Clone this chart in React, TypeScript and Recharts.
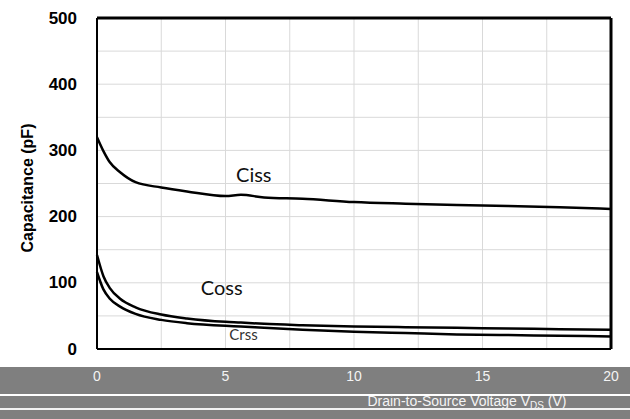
import { LineChart, Line, XAxis, YAxis, CartesianGrid, ReferenceLine, ReferenceDot } from 'recharts';

// drain-to-source voltage (V) and capacitances (pF)
const vds = [0, 0.25, 0.5, 0.9, 1.5, 2.5, 3.5, 5, 5.6, 6.5, 8, 10, 12, 14, 16, 18, 20];
const ciss = [320, 299, 282, 267, 252, 244, 238, 231, 233, 229, 227, 222, 219.5, 217.5, 216, 214, 211.5];
const coss = [142, 110, 92, 76, 63, 52, 46, 41, 40, 38, 36, 34, 33, 32, 31, 30, 29];
const crss = [116, 90, 76, 64, 53, 44, 39, 35, 34, 32, 29, 26, 24, 22, 21, 20, 19];

const xTicks = [0, 5, 10, 15, 20];
const yTicks = [0, 100, 200, 300, 400, 500];
const xGrid = [2.5, 5, 7.5, 10, 12.5, 15, 17.5];
const yGrid = [50, 100, 150, 200, 250, 300, 350, 400, 450];

const data = vds.map((v, i) => ({ vds: v, ciss: ciss[i], coss: coss[i], crss: crss[i] }));

const axisFont = '"Liberation Sans", Arial, sans-serif';
const curveFont = 'Lato, "Open Sans", sans-serif';

const YTick = ({ y, payload }: any) => (
  <text x={77} y={y} textAnchor="end" dominantBaseline="central" fontFamily={axisFont} fontWeight="bold" fontSize={17} fill="#000">
    {payload.value}
  </text>
);

const XTick = ({ x, payload }: any) => (
  <text x={x} y={376} textAnchor="middle" dominantBaseline="central" fontFamily={axisFont} fontSize={14} fill="#f4f4f4">
    {payload.value}
  </text>
);

const curveLabel = (text: string, size: number, color = '#111') => ({
  value: text,
  position: 'center' as const,
  fontSize: size,
  fontFamily: curveFont,
  fill: color,
});

export default function App() {
  return (
    <div style={{ position: 'absolute', left: 0, top: 0, width: 630, height: 419, background: '#fff' }}>
      <div style={{ position: 'absolute', left: 0, top: 367, width: 630, height: 52, background: '#7f7f7f' }} />
      <div style={{ position: 'absolute', left: 0, top: 394, width: 630, height: 2, background: '#fff' }} />
      <div style={{ position: 'absolute', left: 0, top: 408, width: 630, height: 2, background: '#f2f2f2' }} />
      <div style={{ position: 'absolute', left: 0, top: 0 }}>
        <LineChart width={630} height={419} data={data} margin={{ top: 18, right: 19, left: 0, bottom: 0 }}>
          <CartesianGrid stroke="#d9d9d9" strokeWidth={1} horizontalValues={yGrid} verticalValues={xGrid} />
          <XAxis
            dataKey="vds"
            type="number"
            domain={[0, 20]}
            ticks={xTicks}
            height={70}
            tickLine={false}
            axisLine={{ stroke: '#000', strokeWidth: 2 }}
            tick={<XTick />}
            label={{
              content: () => (
                <text x={467} y={401} textAnchor="middle" dominantBaseline="central" fontFamily={axisFont} fontSize={14} fill="#f4f4f4">
                  Drain-to-Source Voltage V
                  <tspan fontSize={10} dy={4}>DS</tspan>
                  <tspan dy={-4}> (V)</tspan>
                </text>
              ),
            }}
          />
          <YAxis
            type="number"
            domain={[0, 500]}
            ticks={yTicks}
            width={97}
            tickLine={false}
            axisLine={{ stroke: '#000', strokeWidth: 2 }}
            tick={<YTick />}
            label={{
              content: () => (
                <text
                  x={27}
                  y={188}
                  transform="rotate(-90 27 188)"
                  textAnchor="middle"
                  dominantBaseline="central"
                  fontFamily={axisFont}
                  fontWeight="bold"
                  fontSize={16}
                  fill="#000"
                >
                  Capacitance (pF)
                </text>
              ),
            }}
          />
          <ReferenceLine y={500} stroke="#000" strokeWidth={3} />
          <ReferenceLine x={20} stroke="#000" strokeWidth={3} />
          <Line type="monotone" dataKey="ciss" stroke="#000" strokeWidth={2.5} dot={false} isAnimationActive={false} />
          <Line type="monotone" dataKey="coss" stroke="#000" strokeWidth={2.5} dot={false} isAnimationActive={false} />
          <Line type="monotone" dataKey="crss" stroke="#000" strokeWidth={2.5} dot={false} isAnimationActive={false} />
          <ReferenceDot x={6.1} y={263} r={0} fill="none" stroke="none" label={curveLabel('Ciss', 20)} />
          <ReferenceDot x={4.85} y={92} r={0} fill="none" stroke="none" label={curveLabel('Coss', 20)} />
          <ReferenceDot x={5.7} y={21} r={0} fill="none" stroke="none" label={curveLabel('Crss', 15, '#333')} />
        </LineChart>
      </div>
    </div>
  );
}
